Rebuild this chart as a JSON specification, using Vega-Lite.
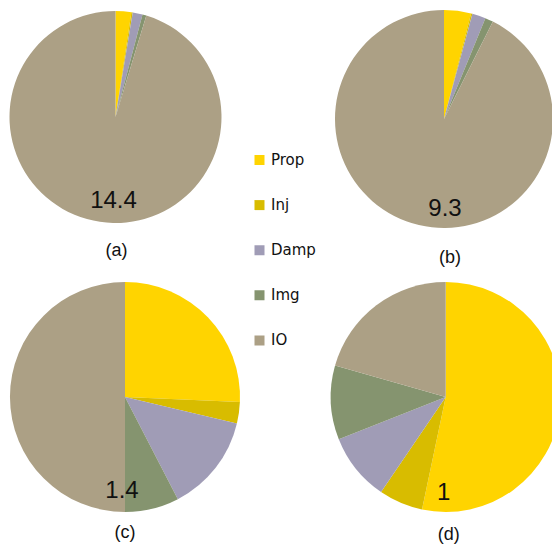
{
  "$schema": "https://vega.github.io/schema/vega-lite/v6.json",
  "padding": 0,
  "bounds": "flush",
  "align": "all",
  "columns": 2,
  "spacing": {"row": 44, "column": 80.7},
  "background": "#ffffff",
  "datasets": {
    "shares": [
      {"panel": "a", "k": 1, "part": "Prop", "pct": 2.4},
      {"panel": "a", "k": 2, "part": "Inj", "pct": 0.2},
      {"panel": "a", "k": 3, "part": "Damp", "pct": 1.5},
      {"panel": "a", "k": 4, "part": "Img", "pct": 0.6},
      {"panel": "a", "k": 5, "part": "IO", "pct": 95.3},
      {"panel": "b", "k": 1, "part": "Prop", "pct": 4.0},
      {"panel": "b", "k": 2, "part": "Inj", "pct": 0.2},
      {"panel": "b", "k": 3, "part": "Damp", "pct": 2.0},
      {"panel": "b", "k": 4, "part": "Img", "pct": 1.2},
      {"panel": "b", "k": 5, "part": "IO", "pct": 92.6},
      {"panel": "c", "k": 1, "part": "Prop", "pct": 25.7},
      {"panel": "c", "k": 2, "part": "Inj", "pct": 3.0},
      {"panel": "c", "k": 3, "part": "Damp", "pct": 13.7},
      {"panel": "c", "k": 4, "part": "Img", "pct": 7.6},
      {"panel": "c", "k": 5, "part": "IO", "pct": 50.0},
      {"panel": "d", "k": 1, "part": "Prop", "pct": 53.3},
      {"panel": "d", "k": 2, "part": "Inj", "pct": 6.2},
      {"panel": "d", "k": 3, "part": "Damp", "pct": 9.5},
      {"panel": "d", "k": 4, "part": "Img", "pct": 10.4},
      {"panel": "d", "k": 5, "part": "IO", "pct": 20.6}
    ],
    "totals": [
      {"panel": "a", "total": "14.4"},
      {"panel": "b", "total": "9.3"},
      {"panel": "c", "total": "1.4"},
      {"panel": "d", "total": "1"}
    ]
  },
  "config": {
    "view": {"stroke": null},
    "title": {"font": "Liberation Sans", "fontSize": 18, "fontWeight": "normal", "color": "#111111", "orient": "bottom", "anchor": "middle"},
    "legend": {
      "orient": "none",
      "legendX": 252,
      "legendY": 150,
      "title": null,
      "symbolType": "square",
      "symbolSize": 100,
      "symbolStrokeWidth": 0,
      "labelFont": "DejaVu Sans",
      "labelFontSize": 15,
      "labelColor": "#111111",
      "labelOffset": 4,
      "clipHeight": 20,
      "rowPadding": 25.1
    }
  },
  "concat": [
    {
      "width": 231, "height": 234,
      "title": {"text": "(a)", "offset": 8, "dx": 1},
      "layer": [
        {
          "data": {"name": "shares"},
          "transform": [{"filter": "datum.panel === 'a'"}],
          "mark": {"type": "arc", "radius": 106},
          "encoding": {
            "theta": {"field": "pct", "type": "quantitative", "stack": true},
            "order": {"field": "k", "type": "ordinal"},
            "color": {"field": "part", "type": "nominal", "scale": {"domain": ["Prop", "Inj", "Damp", "Img", "IO"], "range": ["#FFD400", "#D8BC00", "#A09CB6", "#85946F", "#ACA085"]}}
          }
        },
        {
          "data": {"name": "totals"},
          "transform": [{"filter": "datum.panel === 'a'"}],
          "mark": {"type": "text", "font": "Liberation Sans", "fontSize": 24, "color": "#111111", "dx": -2, "dy": 84},
          "encoding": {"text": {"field": "total"}}
        }
      ]
    },
    {
      "width": 226.6, "height": 238,
      "title": {"text": "(b)", "offset": 11, "dx": 6},
      "layer": [
        {
          "data": {"name": "shares"},
          "transform": [{"filter": "datum.panel === 'b'"}],
          "mark": {"type": "arc", "radius": 109},
          "encoding": {
            "theta": {"field": "pct", "type": "quantitative", "stack": true},
            "order": {"field": "k", "type": "ordinal"},
            "color": {"field": "part", "type": "nominal"}
          }
        },
        {
          "data": {"name": "totals"},
          "transform": [{"filter": "datum.panel === 'b'"}],
          "mark": {"type": "text", "font": "Liberation Sans", "fontSize": 24, "color": "#111111", "dx": 1, "dy": 90},
          "encoding": {"text": {"field": "total"}}
        }
      ]
    },
    {
      "width": 250, "height": 230,
      "title": {"text": "(c)", "offset": 12},
      "layer": [
        {
          "data": {"name": "shares"},
          "transform": [{"filter": "datum.panel === 'c'"}],
          "mark": {"type": "arc", "radius": 115},
          "encoding": {
            "theta": {"field": "pct", "type": "quantitative", "stack": true},
            "order": {"field": "k", "type": "ordinal"},
            "color": {"field": "part", "type": "nominal"}
          }
        },
        {
          "data": {"name": "totals"},
          "transform": [{"filter": "datum.panel === 'c'"}],
          "mark": {"type": "text", "font": "Liberation Sans", "fontSize": 24, "color": "#111111", "dx": -3, "dy": 94},
          "encoding": {"text": {"field": "total"}}
        }
      ]
    },
    {
      "width": 230, "height": 230,
      "title": {"text": "(d)", "offset": 14, "dx": 3},
      "layer": [
        {
          "data": {"name": "shares"},
          "transform": [{"filter": "datum.panel === 'd'"}],
          "mark": {"type": "arc", "radius": 115},
          "encoding": {
            "theta": {"field": "pct", "type": "quantitative", "stack": true},
            "order": {"field": "k", "type": "ordinal"},
            "color": {"field": "part", "type": "nominal"}
          }
        },
        {
          "data": {"name": "totals"},
          "transform": [{"filter": "datum.panel === 'd'"}],
          "mark": {"type": "text", "font": "Liberation Sans", "fontSize": 24, "color": "#111111", "dx": -2, "dy": 96},
          "encoding": {"text": {"field": "total"}}
        }
      ]
    }
  ]
}
